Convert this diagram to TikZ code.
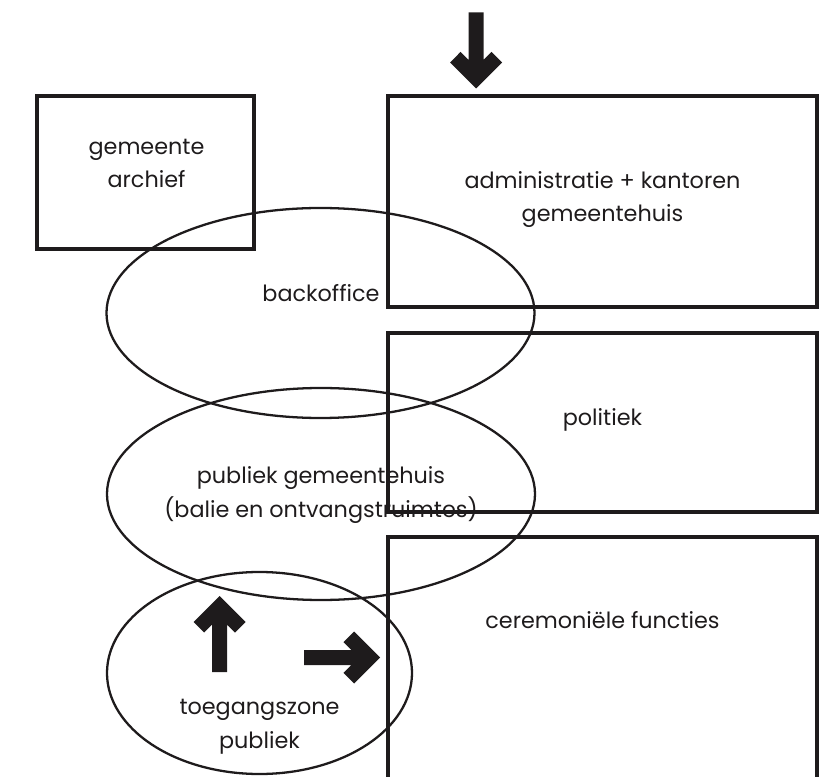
\documentclass[tikz,border=0pt]{standalone}
\usepackage{fontspec}
\setmainfont{Poppins}
\definecolor{ink}{RGB}{30,27,28}
\tikzset{
  room/.style={draw=ink, line width=2pt},
  zone/.style={draw=ink, line width=1.3pt},
  roomtext/.style={text=ink, font=\fontsize{12.7}{19.3}\selectfont, align=center, anchor=base},
  fatarrow/.pic={
    \fill[ink] (0,0) -- (-0.26,0.26) -- (-0.154,0.366) -- (-0.075,0.287) -- (-0.075,0.76)
      -- (0.075,0.76) -- (0.075,0.287) -- (0.154,0.366) -- (0.26,0.26) -- cycle;
  }
}
\begin{document}
\begin{tikzpicture}[x=2cm,y=2cm]
        \useasboundingbox (0,0) rectangle (8.21,7.76);

        % Rooms
        \draw[room] (0.37,6.80) rectangle (2.54,5.27);
        \draw[room] (3.88,6.80) rectangle (8.17,4.69);
        \draw[room] (3.88,4.43) rectangle (8.17,2.64);
        \draw[room] (3.88,-0.05) -- (3.88,2.39) -- (8.17,2.39) -- (8.17,-0.05);

        % Zones
        \draw[zone] (3.205,4.63) ellipse (2.14 and 1.05);
        \draw[zone] (3.21,2.82) ellipse (2.14 and 1.06);
        \draw[zone] (2.595,1.03) ellipse (1.525 and 1.01);

        % Labels (base = last line)
        \node[roomtext] (archief) at (1.465,5.88) {gemeente\\archief};
        \node[roomtext] (admin) at (6.025,5.54) {administratie + kantoren\\gemeentehuis};
        \node[roomtext] (back) at (3.21,4.74) {backoffice};
        \node[roomtext] (politiek) at (6.025,3.50) {politiek};
        \node[roomtext] (publiek) at (3.21,2.59) {publiek gemeentehuis\\(balie en ontvangstruimtes)};
        \node[roomtext] (ceremonie) at (6.025,1.48) {ceremoniële functies};
        \node[roomtext] (toegang) at (2.595,0.28) {toegangszone\\publiek};

        % Arrows
        \coordinate (intop) at (4.76,6.875);
        \coordinate (inup) at (2.195,1.80);
        \coordinate (inright) at (3.80,1.185);
        \pic at (intop) {fatarrow};
        \pic[rotate=180] at (inup) {fatarrow};
        \pic[rotate=90] at (inright) {fatarrow};

    \end{tikzpicture}
\end{document}
